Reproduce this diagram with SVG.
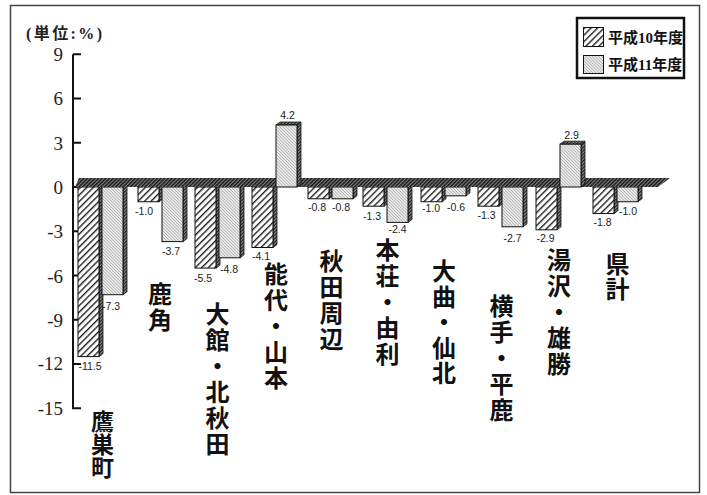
<svg xmlns="http://www.w3.org/2000/svg" width="707" height="495" viewBox="0 0 707 495">
<defs>
<pattern id="h10" patternUnits="userSpaceOnUse" width="4.6" height="4.6" patternTransform="rotate(45)">
<rect width="4.6" height="4.6" fill="#fff"/>
<rect x="0" y="0" width="1.4" height="4.6" fill="#222"/>
</pattern>
<pattern id="h11" patternUnits="userSpaceOnUse" width="2.2" height="2.2" patternTransform="rotate(-45)">
<rect width="2.2" height="2.2" fill="#ececec"/>
<rect x="0" y="0" width="0.7" height="2.2" fill="#a8a8a8"/>
</pattern>
<pattern id="hs" patternUnits="userSpaceOnUse" width="2.4" height="2.4" patternTransform="rotate(45)">
<rect width="2.4" height="2.4" fill="#8a8a8a"/>
<rect x="0" y="0" width="1.2" height="2.4" fill="#222"/>
</pattern>
<pattern id="fl" patternUnits="userSpaceOnUse" width="2.6" height="2.6" patternTransform="rotate(45)">
<rect width="2.6" height="2.6" fill="#7a7a7a"/>
<rect x="0" y="0" width="1.5" height="2.6" fill="#1e1e1e"/>
</pattern>
</defs>
<style>
.b10{fill:url(#h10);stroke:#111;stroke-width:1}
.b11{fill:url(#h11);stroke:#111;stroke-width:1}
.sd{fill:url(#hs);stroke:#111;stroke-width:0.8}
.val{font-family:"Liberation Sans",Arial,sans-serif;font-size:10.5px;fill:#222;text-anchor:middle}
.cat{font-family:"Noto Sans CJK JP","Noto Sans CJK SC",sans-serif;font-size:24px;font-weight:bold;fill:#111;writing-mode:vertical-rl;text-orientation:upright;letter-spacing:2px}
.tk{font-family:"Liberation Serif","Times New Roman",serif;font-size:19px;fill:#222;text-anchor:end}
.ax{stroke:#111;stroke-width:2;fill:none}
.lg{font-family:"Liberation Serif","Noto Sans CJK JP",serif;font-size:15px;font-weight:bold;fill:#111}
</style>
<rect x="10.5" y="5.5" width="689" height="487" fill="#fff" stroke="#444" stroke-width="1.5"/>
<text x="26" y="39" font-family="Liberation Serif, Noto Sans CJK JP, serif" font-size="16" font-weight="bold" fill="#222" textLength="76" lengthAdjust="spacing">(単位:%)</text>
<g id="axis">
<path class="ax" d="M73,54.25 V408.25 H81"/>
<path class="ax" d="M73,54.25 H81 M73,98.5 H81 M73,142.75 H81 M73,187 H81 M73,231.25 H81 M73,275.5 H81 M73,319.75 H81 M73,364 H81"/>
<text class="tk" x="63" y="60.5">9</text>
<text class="tk" x="63" y="105">6</text>
<text class="tk" x="63" y="149.5">3</text>
<text class="tk" x="63" y="193.5">0</text>
<text class="tk" x="63" y="238">-3</text>
<text class="tk" x="63" y="282.5">-6</text>
<text class="tk" x="63" y="326.5">-9</text>
<text class="tk" x="63" y="369.5">-12</text>
<text class="tk" x="63" y="414.5">-15</text>
</g>
<g id="connectors"></g>
<g id="negbars">
<polygon class="sd" points="99,187 103,184 103,353.6 99,356.6"/><rect class="b10" x="78" y="187" width="21" height="169.6"/>
<polygon class="sd" points="123,187 127,184 127,291.7 123,294.7"/><rect class="b11" x="102" y="187" width="21" height="107.7"/>
<polygon class="sd" points="159,187 163,184 163,198.75 159,201.75"/><rect class="b10" x="138" y="187" width="21" height="14.75"/>
<polygon class="sd" points="183,187 187,184 187,238.6 183,241.6"/><rect class="b11" x="162" y="187" width="21" height="54.6"/>
<polygon class="sd" points="216,187 220,184 220,265.1 216,268.1"/><rect class="b10" x="195" y="187" width="21" height="81.1"/>
<polygon class="sd" points="240,187 244,184 244,254.8 240,257.8"/><rect class="b11" x="219" y="187" width="21" height="70.8"/>
<polygon class="sd" points="273,187 277,184 277,244.5 273,247.5"/><rect class="b10" x="252" y="187" width="21" height="60.5"/>
<polygon class="sd" points="329,187 333,184 333,195.8 329,198.8"/><rect class="b10" x="308" y="187" width="21" height="11.8"/>
<polygon class="sd" points="353,187 357,184 357,195.8 353,198.8"/><rect class="b11" x="332" y="187" width="21" height="11.8"/>
<polygon class="sd" points="384,187 388,184 388,203.2 384,206.2"/><rect class="b10" x="363" y="187" width="21" height="19.2"/>
<polygon class="sd" points="408,187 412,184 412,219.4 408,222.4"/><rect class="b11" x="387" y="187" width="21" height="35.4"/>
<polygon class="sd" points="442,187 446,184 446,198.75 442,201.75"/><rect class="b10" x="421" y="187" width="21" height="14.75"/>
<polygon class="sd" points="466,187 470,184 470,192.85 466,195.85"/><rect class="b11" x="445" y="187" width="21" height="8.85"/>
<polygon class="sd" points="499,187 503,184 503,203.2 499,206.2"/><rect class="b10" x="478" y="187" width="21" height="19.2"/>
<polygon class="sd" points="523,187 527,184 527,223.8 523,226.8"/><rect class="b11" x="502" y="187" width="21" height="39.8"/>
<polygon class="sd" points="557,187 561,184 561,226.8 557,229.8"/><rect class="b10" x="536" y="187" width="21" height="42.8"/>
<polygon class="sd" points="614,187 618,184 618,210.55 614,213.55"/><rect class="b10" x="593" y="187" width="21" height="26.55"/>
<polygon class="sd" points="638,187 642,184 642,198.75 638,201.75"/><rect class="b11" x="617" y="187" width="21" height="14.75"/>
</g>
<polygon id="floor" points="75,187 658,187 670,178 79,178" fill="url(#fl)"/>
<g id="posbars">
<polygon class="sd" points="297,125.05 301,122.05 301,184 297,187"/>
<polygon class="sd" points="276,125.05 297,125.05 301,122.05 280,122.05"/>
<rect class="b11" x="276" y="125.05" width="21" height="61.95"/>
<polygon class="sd" points="581,144.2 585,141.2 585,184 581,187"/>
<polygon class="sd" points="560,144.2 581,144.2 585,141.2 564,141.2"/>
<rect class="b11" x="560" y="144.2" width="21" height="42.8"/>
</g>
<g id="values">
<text class="val" x="90" y="369.5">-11.5</text>
<text class="val" x="111" y="309.5">-7.3</text>
<text class="val" x="144" y="215">-1.0</text>
<text class="val" x="171" y="255">-3.7</text>
<text class="val" x="203" y="281.5">-5.5</text>
<text class="val" x="229" y="272.5">-4.8</text>
<text class="val" x="261" y="259.5">-4.1</text>
<text class="val" x="287.5" y="118.5">4.2</text>
<text class="val" x="317" y="210.5">-0.8</text>
<text class="val" x="341" y="210.5">-0.8</text>
<text class="val" x="372" y="220">-1.3</text>
<text class="val" x="397.5" y="232.5">-2.4</text>
<text class="val" x="431" y="212">-1.0</text>
<text class="val" x="456" y="210.5">-0.6</text>
<text class="val" x="486.5" y="218.5">-1.3</text>
<text class="val" x="512.5" y="242">-2.7</text>
<text class="val" x="545.5" y="242">-2.9</text>
<text class="val" x="571.5" y="138.5">2.9</text>
<text class="val" x="602.5" y="226">-1.8</text>
<text class="val" x="628" y="214.5">-1.0</text>
</g>
<g id="n-takanosu"><text class="cat" x="102.5" y="410" style="font-size:23px;letter-spacing:0">鷹巣町</text></g>
<g id="n-kazuno"><text class="cat" x="160" y="282">鹿角</text></g>
<g id="n-odate"><text class="cat" x="217.5" y="302">大館・北秋田</text></g>
<g id="n-noshiro"><text class="cat" x="276" y="262">能代・山本</text></g>
<g id="n-akita"><text class="cat" x="331.5" y="249">秋田周辺</text></g>
<g id="n-honjo"><text class="cat" x="387.5" y="237.5">本荘・由利</text></g>
<g id="n-omagari"><text class="cat" x="444" y="259" style="letter-spacing:1.5px">大曲・仙北</text></g>
<g id="n-yokote"><text class="cat" x="501.5" y="294">横手・平鹿</text></g>
<g id="n-yuzawa"><text class="cat" x="559" y="247.5">湯沢・雄勝</text></g>
<g id="n-total"><text class="cat" x="617.5" y="252" style="letter-spacing:1px">県計</text></g>
<g id="legend">
<rect x="577" y="18" width="107" height="60" fill="#fff" stroke="#111" stroke-width="2.5"/>
<rect class="b10" x="583.5" y="27.5" width="20" height="19"/>
<rect class="b11" x="583.5" y="55.5" width="20" height="18"/>
<text class="lg" x="608" y="42.5">平成10年度</text>
<text class="lg" x="608" y="69.5">平成11年度</text>
</g>
</svg>
